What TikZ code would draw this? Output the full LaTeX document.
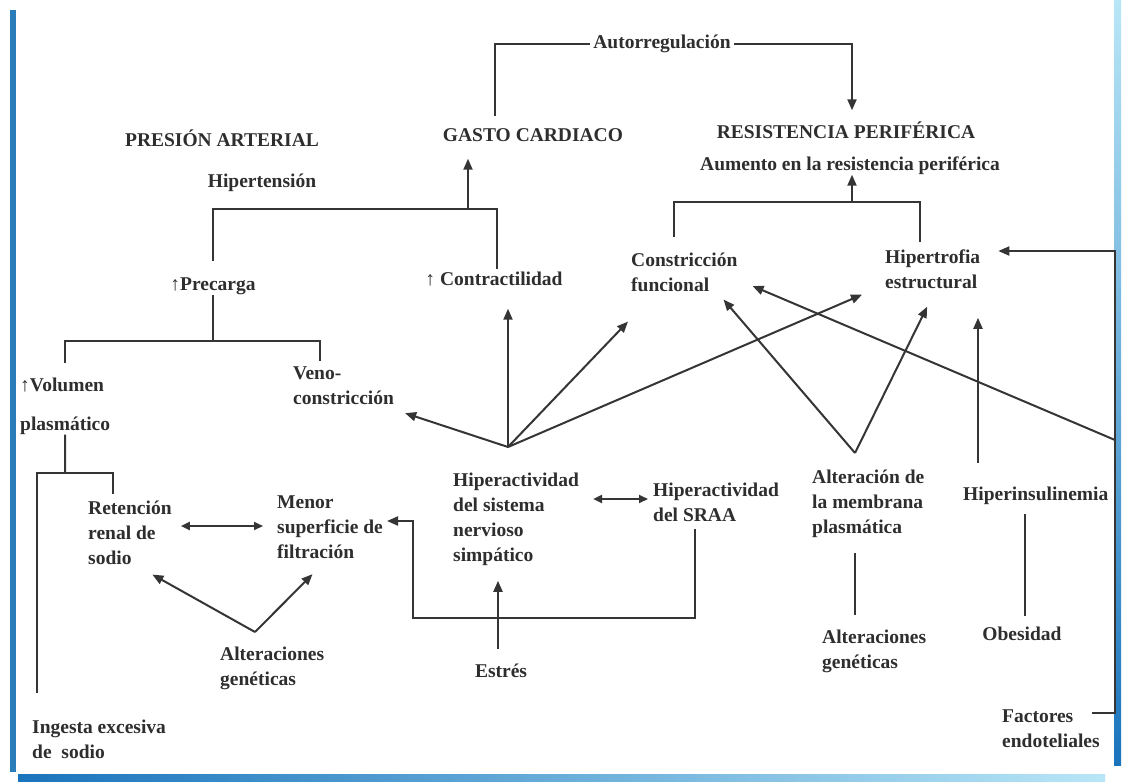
\documentclass[tikz,border=0pt]{standalone}
\usepackage{fontspec}
\setmainfont{Liberation Serif}
\usetikzlibrary{arrows.meta}
\definecolor{ink}{HTML}{2E2E2E}
\definecolor{wire}{HTML}{353535}
\definecolor{barblue}{HTML}{2A7DB8}
\definecolor{barlight}{HTML}{B8E6F7}
\definecolor{barmid}{HTML}{5DB6E4}
\definecolor{bardeep}{HTML}{1A74BC}
\begin{document}
\begin{tikzpicture}[x=1pt,y=-1pt,
  lbl/.style={inner sep=0pt,text=ink,font=\fontsize{19.5}{25}\selectfont\bfseries,align=left},
  one/.style={lbl,text height=13pt,text depth=4pt},
  ml/.style={lbl,anchor=west},
  ln/.style={draw=wire,line width=2pt},
  arr/.style={ln,-{Triangle[length=11pt,width=9pt]}},
  darr/.style={ln,{Triangle[length=9pt,width=8pt]}-{Triangle[length=9pt,width=8pt]}},
]
\useasboundingbox (0,0) rectangle (1130,782);
\fill[white] (0,0) rectangle (1130,782);

% frame bars
\fill[barblue] (10,10) rectangle (16,772);
\shade[left color=bardeep,right color=barlight] (18,774) rectangle (1105,781);
\shade[top color=barlight,middle color=barmid,bottom color=bardeep] (1114,0) rectangle (1121,765);

% headings
\node[one] (pa)   at (222,142) {PRESIÓN ARTERIAL};
\node[one] (gc)   at (533,137) {GASTO CARDIACO};
\node[one] (rp)   at (846,134) {RESISTENCIA PERIFÉRICA};
\node[one] (auto) at (662,44)  {Autorregulación};
\node[one] (hip)  at (262,183) {Hipertensión};
\node[one] (aum)  at (850,166) {Aumento en la resistencia periférica};

% second level
\node[one] (prec)  at (213,286) {↑Precarga};
\node[one] (contr) at (494,281) {↑ Contractilidad};
\node[ml]  (cf)    at (631,272) {Constricción\\funcional};
\node[ml]  (he)    at (885,269) {Hipertrofia\\estructural};
\node[ml]  (vol)   at (20,406)  {↑Volumen\\[14pt]plasmático};
\node[ml]  (veno)  at (293,386) {Veno-\\constricción};

% causes
\node[ml] (ret)  at (88,533)  {Retención\\renal de\\sodio};
\node[ml] (men)  at (277,527) {Menor\\superficie de\\filtración};
\node[ml] (hsns) at (453,519) {Hiperactividad\\del sistema\\nervioso\\simpático};
\node[ml] (sraa) at (653,502) {Hiperactividad\\del SRAA};
\node[ml] (memb) at (812,504) {Alteración de\\la membrana\\plasmática};
\node[one,anchor=west] (hins) at (963,496) {Hiperinsulinemia};

% root factors
\node[ml]  (agL)  at (220,668)  {Alteraciones\\genéticas};
\node[ml]  (agR)  at (822,651)  {Alteraciones\\genéticas};
\node[one] (ob)   at (1022,636) {Obesidad};
\node[one] (estr) at (501,673)  {Estrés};
\node[ml]  (ing)  at (32,739)   {Ingesta excesiva\\de\ \ sodio};
\node[ml]  (fact) at (1002,729) {Factores\\endoteliales};

% junction points
\coordinate (jHT) at (468,209);
\coordinate (jRP) at (852,202);
\coordinate (jPR) at (213,341);
\coordinate (jVO) at (65,473);
\coordinate (fan) at (508,447);
\coordinate (mfan) at (855,453);
\coordinate (agv) at (255,632);
\coordinate (loopL) at (413,618);
\coordinate (rb) at (1115,713);
\coordinate (rt) at (1115,251);
\coordinate (rm) at (1115,440);

% autoregulation loop
\draw[ln] ([xshift=-3pt]auto.west) -| ([xshift=-38pt,yshift=12pt]gc.north);
\draw[arr] ([xshift=3pt]auto.east) -| ([xshift=6pt,yshift=15pt]rp.north);

% cardiac output branch
\draw[ln] ([yshift=16pt]prec.north) |- (jHT) -| ([xshift=3pt,yshift=3pt]contr.north);
\draw[arr,shorten >=13pt] (jHT) -- (jHT |- gc.south);

% peripheral resistance branch
\draw[ln] ([xshift=-10pt,yshift=15pt]cf.north) |- (jRP) -| ([xshift=-12.5pt,yshift=7pt]he.north);
\draw[arr] (jRP) -- (jRP |- aum.south);

% preload branch
\draw[ln] (prec.south) -- (jPR);
\draw[ln] (jPR) -| ([yshift=14pt]vol.north);
\draw[ln] (jPR) -| ([xshift=-23.5pt,yshift=6pt]veno.north);

% plasma volume branch
\draw[ln] (vol.south) -- (jVO);
\draw[ln] (jVO) -| ([xshift=5pt,yshift=26pt]ing.north west);
\draw[ln] (jVO) -| ([xshift=25pt,yshift=7pt]ret.north west);
\draw[darr] ([xshift=9pt,yshift=7pt]ret.east) -- ([xshift=-14pt,yshift=1pt]men.west);

% genetic factors (renal)
\draw[arr] (agv) -- ([xshift=22.5pt,yshift=-9.5pt]ret.south);
\draw[arr] (agv) -- ([xshift=-17.5pt,yshift=-15.5pt]men.south);

% sympathetic overactivity
\draw[arr] (fan) -- ([xshift=11pt,yshift=-8pt]veno.south east);
\draw[arr] (fan) -- (fan |- contr.south) [shorten >=19pt];
\draw[arr] (fan) -- ([xshift=-3pt,yshift=-30pt]cf.south west);
\draw[arr] (fan) -- ([xshift=-23pt,yshift=-6pt]he.south west);
\draw[darr] ([xshift=14pt,yshift=20pt]hsns.east) -- ([xshift=-5pt,yshift=3pt]sraa.west);
\draw[arr] ([xshift=-3pt,yshift=15.5pt]estr.north) -- ++(0,-68);

% RAAS loop to filtration surface
\draw[arr] ([xshift=-21pt,yshift=-7pt]sraa.south) |- (loopL) |- ([xshift=4pt,yshift=6pt]men.east);

% membrane alteration
\draw[arr] (mfan) -- ([xshift=-14pt,yshift=-8pt]cf.south east);
\draw[arr] (mfan) -- ([xshift=-5.5pt,yshift=-18pt]he.south);
\draw[ln] ([xshift=-19pt,yshift=14pt]agR.north) -- ++(0,-62);

% hyperinsulinemia and obesity
\draw[arr] ([xshift=15pt,yshift=24.5pt]hins.north west) -- ++(0,-145);
\draw[ln] ([xshift=3pt,yshift=11.5pt]ob.north) -- ++(0,-102);

% endothelial factors
\draw[arr] ([xshift=-8pt,yshift=16pt]fact.east) -- (rb) -- (rt) -- ([xshift=18pt,yshift=18pt]he.east);
\draw[arr] (rm) -- ([xshift=15pt,yshift=-14pt]cf.east);
\end{tikzpicture}
\end{document}
